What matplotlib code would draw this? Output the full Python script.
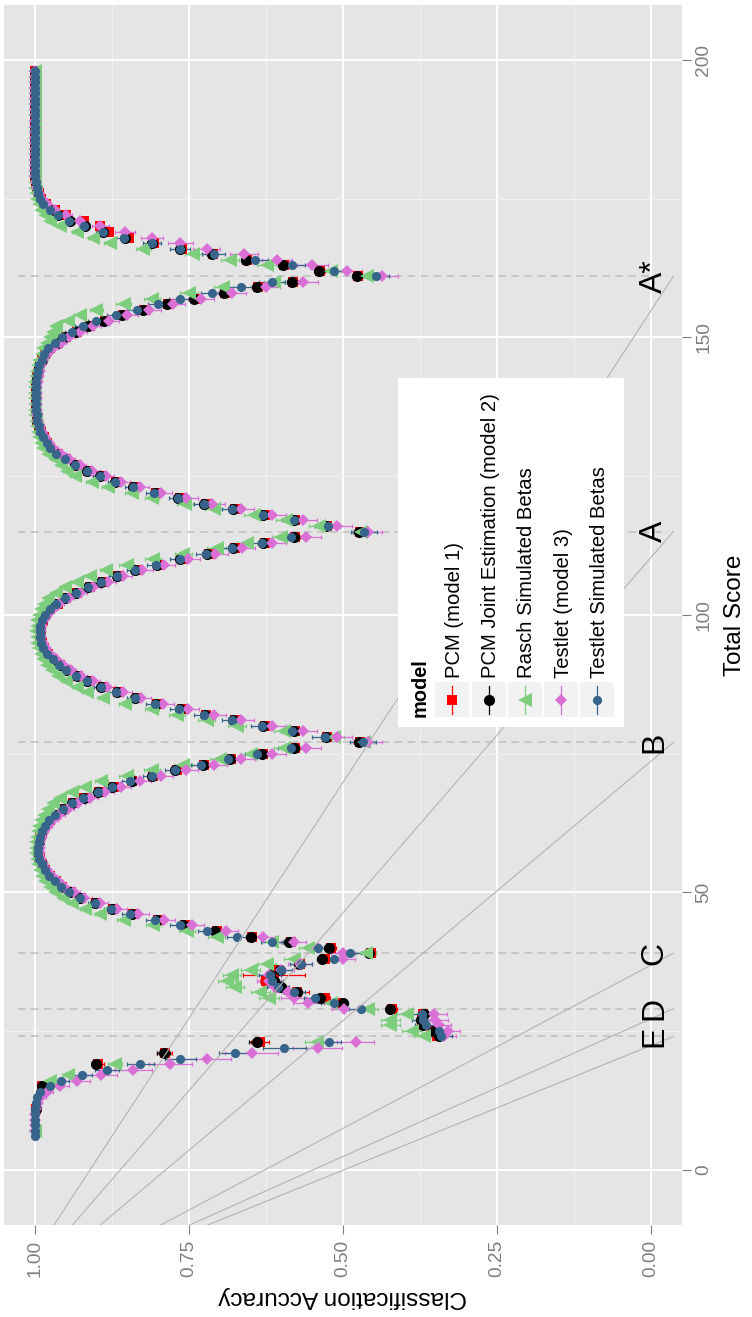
import numpy as np
import matplotlib.pyplot as plt
from matplotlib.patches import Rectangle

plt.rcParams['font.family'] = ['Liberation Sans', 'DejaVu Sans']

nan = np.nan

# total scores 6..198, one value per score (nan = no point at that score)
score = list(range(6, 199))

pcm1 = [nan, nan, nan, nan, nan, 0.998, nan, nan, nan, 0.989,
        nan, nan, nan, 0.897, nan, 0.789, nan, 0.635, 0.348, 0.355,
        0.370, 0.372, 0.370, 0.420, 0.505, 0.530, 0.575, 0.605, 0.625, 0.612,
        0.605, 0.570, 0.530, 0.455, 0.520, 0.585, 0.648, 0.705, 0.757, 0.800,
        0.840, 0.873, 0.900, 0.925, 0.942, 0.956, 0.966, 0.975, 0.983, 0.988,
        0.992, 0.994, 0.994, 0.993, 0.991, 0.988, 0.983, 0.975, 0.966, 0.953,
        0.938, 0.920, 0.896, 0.872, 0.842, 0.808, 0.770, 0.725, 0.682, 0.630,
        0.578, 0.472, 0.526, 0.578, 0.627, 0.676, 0.722, 0.762, 0.801, 0.835,
        0.865, 0.890, 0.913, 0.930, 0.947, 0.959, 0.971, 0.979, 0.985, 0.989,
        0.991, 0.991, 0.990, 0.987, 0.983, 0.975, 0.963, 0.949, 0.931, 0.911,
        0.890, 0.865, 0.835, 0.800, 0.762, 0.718, 0.676, 0.627, 0.578, 0.472,
        0.526, 0.578, 0.627, 0.676, 0.723, 0.765, 0.803, 0.838, 0.868, 0.892,
        0.913, 0.933, 0.949, 0.963, 0.975, 0.980, 0.985, 0.990, 0.993, 0.996,
        0.997, 0.997, 0.998, 0.998, 0.998, 0.998, 0.997, 0.996, 0.994, 0.992,
        0.988, 0.983, 0.975, 0.962, 0.950, 0.931, 0.911, 0.886, 0.857, 0.823,
        0.784, 0.739, 0.691, 0.638, 0.581, 0.475, 0.537, 0.595, 0.655, 0.711,
        0.762, 0.806, 0.848, 0.880, 0.894, 0.920, 0.950, 0.967, 0.982, 0.990,
        0.994, 0.997, 0.998, 1.0, 1.0, 1.0, 1.0, 1.0, 1.0, 1.0,
        1.0, 1.0, 1.0, 1.0, 1.0, 1.0, 1.0, 1.0, 1.0, 1.0,
        1.0, 1.0, 1.0]

pcm2 = [nan, nan, nan, nan, nan, 0.998, nan, nan, nan, 0.989,
        nan, nan, nan, 0.900, nan, 0.791, nan, 0.640, 0.345, 0.352,
        0.371, 0.374, 0.369, 0.423, 0.500, 0.537, 0.575, 0.600, 0.612, 0.618,
        0.602, 0.572, 0.534, 0.458, 0.523, 0.588, 0.650, 0.707, 0.759, 0.802,
        0.843, 0.875, 0.902, 0.927, 0.943, 0.957, 0.967, 0.976, 0.984, 0.989,
        0.993, 0.995, 0.995, 0.993, 0.992, 0.989, 0.984, 0.976, 0.967, 0.954,
        0.940, 0.921, 0.897, 0.874, 0.843, 0.810, 0.772, 0.727, 0.683, 0.631,
        0.580, 0.474, 0.528, 0.580, 0.629, 0.678, 0.724, 0.764, 0.803, 0.837,
        0.867, 0.892, 0.915, 0.932, 0.949, 0.960, 0.972, 0.980, 0.986, 0.990,
        0.992, 0.992, 0.991, 0.988, 0.984, 0.976, 0.965, 0.951, 0.933, 0.913,
        0.892, 0.867, 0.837, 0.802, 0.764, 0.720, 0.678, 0.629, 0.580, 0.474,
        0.528, 0.580, 0.629, 0.678, 0.725, 0.767, 0.805, 0.840, 0.870, 0.894,
        0.915, 0.935, 0.951, 0.965, 0.976, 0.981, 0.986, 0.991, 0.994, 0.997,
        0.997, 0.998, 0.998, 0.998, 0.998, 0.998, 0.998, 0.997, 0.995, 0.993,
        0.989, 0.984, 0.976, 0.963, 0.951, 0.933, 0.913, 0.888, 0.859, 0.825,
        0.786, 0.741, 0.693, 0.640, 0.583, 0.477, 0.539, 0.597, 0.657, 0.713,
        0.764, 0.810, 0.854, 0.889, 0.919, 0.943, 0.962, 0.976, 0.986, 0.992,
        0.995, 0.997, 0.998, 1.0, 1.0, 1.0, 1.0, 1.0, 1.0, 1.0,
        1.0, 1.0, 1.0, 1.0, 1.0, 1.0, 1.0, 1.0, 1.0, 1.0,
        1.0, 1.0, 1.0]

rasch = [nan, 1.0, nan, nan, nan, nan, nan, nan, nan, nan,
         0.976, 0.946, nan, 0.870, nan, nan, nan, 0.542, 0.369, 0.388,
         0.423, 0.423, 0.396, 0.459, 0.520, 0.620, 0.634, 0.675, 0.688, 0.680,
         0.650, 0.623, 0.580, 0.463, 0.556, 0.615, 0.705, 0.753, 0.808, 0.856,
         0.894, 0.919, 0.940, 0.955, 0.967, 0.976, 0.983, 0.988, 0.992, 0.995,
         0.997, 0.998, 0.998, 0.998, 0.997, 0.995, 0.993, 0.990, 0.985, 0.978,
         0.970, 0.959, 0.940, 0.919, 0.892, 0.851, 0.810, 0.759, 0.700, 0.650,
         0.596, 0.466, 0.515, 0.596, 0.672, 0.721, 0.770, 0.810, 0.854, 0.889,
         0.915, 0.932, 0.950, 0.962, 0.972, 0.980, 0.986, 0.990, 0.994, 0.996,
         0.997, 0.998, 0.997, 0.996, 0.994, 0.990, 0.985, 0.978, 0.966, 0.951,
         0.932, 0.911, 0.885, 0.851, 0.808, 0.759, 0.705, 0.656, 0.600, 0.470,
         0.539, 0.593, 0.645, 0.710, 0.756, 0.810, 0.843, 0.881, 0.908, 0.935,
         0.947, 0.958, 0.968, 0.978, 0.986, 0.990, 0.993, 0.995, 0.997, 0.998,
         0.999, 0.999, 0.999, 0.999, 0.999, 0.999, 0.999, 0.998, 0.997, 0.995,
         0.993, 0.989, 0.986, 0.981, 0.976, 0.971, 0.965, 0.946, 0.927, 0.900,
         0.856, 0.810, 0.750, 0.694, 0.612, 0.461, 0.520, 0.623, 0.683, 0.743,
         0.824, 0.878, 0.905, 0.932, 0.959, 0.976, 0.984, 0.990, 0.994, 0.996,
         0.998, 0.999, 1.0, 1.0, 1.0, 1.0, 1.0, 1.0, 1.0, 1.0,
         1.0, 1.0, 1.0, 1.0, 1.0, 1.0, 1.0, 1.0, 1.0, 1.0,
         1.0, 1.0, 1.0]

testlet = [nan, 1.0, 1.0, 1.0, 1.0, 0.998, 0.995, 0.990, 0.981, 0.959,
           0.931, 0.892, 0.840, 0.780, 0.721, 0.648, 0.541, 0.479, 0.336, 0.330,
           0.345, 0.350, 0.352, 0.498, 0.556, 0.580, 0.590, 0.610, 0.620, 0.620,
           0.600, 0.570, 0.500, 0.500, 0.540, 0.580, 0.630, 0.690, 0.745, 0.790,
           0.832, 0.866, 0.895, 0.920, 0.937, 0.952, 0.963, 0.972, 0.980, 0.986,
           0.990, 0.992, 0.992, 0.991, 0.989, 0.985, 0.979, 0.970, 0.960, 0.946,
           0.930, 0.910, 0.886, 0.860, 0.830, 0.795, 0.755, 0.710, 0.665, 0.615,
           0.560, 0.460, 0.510, 0.565, 0.615, 0.665, 0.710, 0.752, 0.792, 0.827,
           0.857, 0.883, 0.906, 0.925, 0.942, 0.955, 0.966, 0.975, 0.982, 0.987,
           0.990, 0.990, 0.989, 0.985, 0.980, 0.971, 0.960, 0.945, 0.926, 0.905,
           0.882, 0.857, 0.826, 0.790, 0.752, 0.708, 0.664, 0.615, 0.560, 0.460,
           0.510, 0.565, 0.615, 0.665, 0.712, 0.755, 0.795, 0.830, 0.860, 0.885,
           0.907, 0.927, 0.944, 0.958, 0.970, 0.977, 0.983, 0.988, 0.992, 0.995,
           0.996, 0.997, 0.997, 0.997, 0.997, 0.996, 0.995, 0.994, 0.992, 0.990,
           0.986, 0.980, 0.971, 0.958, 0.945, 0.927, 0.906, 0.880, 0.850, 0.815,
           0.776, 0.730, 0.680, 0.625, 0.565, 0.436, 0.494, 0.550, 0.607, 0.661,
           0.721, 0.764, 0.810, 0.854, 0.894, 0.927, 0.950, 0.968, 0.980, 0.988,
           0.993, 0.996, 0.998, 1.0, 1.0, 1.0, 1.0, 1.0, 1.0, 1.0,
           1.0, 1.0, 1.0, 1.0, 1.0, 1.0, 1.0, 1.0, 1.0, 1.0,
           1.0, 1.0, 1.0]

testlet_sim = [1.0, 1.0, 1.0, 1.0, 1.0, 1.0, 0.998, 0.997, 0.992, 0.976,
               0.957, 0.924, 0.883, 0.829, 0.764, 0.675, 0.595, 0.523, 0.341, 0.345,
               0.365, 0.370, 0.372, 0.470, 0.515, 0.545, 0.580, 0.605, 0.615, 0.618,
               0.600, 0.568, 0.515, 0.488, 0.540, 0.615, 0.672, 0.720, 0.765, 0.805,
               0.845, 0.876, 0.903, 0.927, 0.944, 0.958, 0.968, 0.977, 0.984, 0.989,
               0.993, 0.995, 0.995, 0.994, 0.992, 0.989, 0.984, 0.977, 0.968, 0.955,
               0.940, 0.922, 0.898, 0.874, 0.845, 0.810, 0.772, 0.730, 0.686, 0.640,
               0.585, 0.468, 0.530, 0.582, 0.632, 0.680, 0.725, 0.766, 0.805, 0.838,
               0.868, 0.893, 0.915, 0.933, 0.949, 0.960, 0.971, 0.980, 0.986, 0.990,
               0.992, 0.992, 0.991, 0.988, 0.984, 0.976, 0.965, 0.951, 0.933, 0.913,
               0.892, 0.867, 0.838, 0.803, 0.765, 0.722, 0.680, 0.632, 0.585, 0.466,
               0.525, 0.580, 0.630, 0.680, 0.726, 0.768, 0.806, 0.840, 0.870, 0.894,
               0.915, 0.935, 0.951, 0.965, 0.976, 0.981, 0.986, 0.991, 0.994, 0.997,
               0.997, 0.998, 0.998, 0.998, 0.998, 0.998, 0.998, 0.997, 0.995, 0.993,
               0.989, 0.985, 0.978, 0.967, 0.956, 0.940, 0.922, 0.900, 0.868, 0.835,
               0.800, 0.765, 0.712, 0.665, 0.615, 0.447, 0.515, 0.583, 0.642, 0.710,
               0.764, 0.810, 0.856, 0.890, 0.920, 0.944, 0.962, 0.976, 0.986, 0.992,
               0.995, 0.997, 0.998, 1.0, 1.0, 1.0, 1.0, 1.0, 1.0, 1.0,
               1.0, 1.0, 1.0, 1.0, 1.0, 1.0, 1.0, 1.0, 1.0, 1.0,
               1.0, 1.0, 1.0]

# error bar half widths
pcm2_se = [0, 0, 0, 0, 0, 0.001, 0, 0, 0, 0.003,
           0, 0, 0, 0.008, 0, 0.010, 0, 0.012, 0.008, 0.008,
           0.008, 0.008, 0.008, 0.008, 0.008, 0.008, 0.008, 0.008, 0.008, 0.008,
           0.008, 0.008, 0.008, 0.008, 0.008, 0.008, 0.007, 0.007, 0.007, 0.006,
           0.006, 0.005, 0.005, 0.004, 0.004, 0.003, 0.003, 0.003, 0.002, 0.002,
           0.001, 0.001, 0.001, 0.001, 0.001, 0.002, 0.002, 0.003, 0.003, 0.003,
           0.004, 0.004, 0.005, 0.005, 0.006, 0.006, 0.007, 0.007, 0.007, 0.008,
           0.008, 0.008, 0.008, 0.008, 0.008, 0.007, 0.007, 0.007, 0.006, 0.006,
           0.005, 0.005, 0.004, 0.004, 0.004, 0.003, 0.003, 0.002, 0.002, 0.001,
           0.001, 0.001, 0.001, 0.002, 0.002, 0.003, 0.003, 0.003, 0.004, 0.004,
           0.005, 0.005, 0.006, 0.006, 0.007, 0.007, 0.007, 0.008, 0.008, 0.008,
           0.008, 0.008, 0.008, 0.007, 0.007, 0.007, 0.006, 0.006, 0.005, 0.005,
           0.004, 0.004, 0.003, 0.003, 0.002, 0.002, 0.002, 0.001, 0.001, 0.001,
           0, 0, 0, 0, 0, 0, 0, 0.001, 0.001, 0.001,
           0.002, 0.002, 0.003, 0.003, 0.004, 0.004, 0.005, 0.005, 0.006, 0.006,
           0.007, 0.007, 0.007, 0.008, 0.008, 0.008, 0.008, 0.008, 0.008, 0.007,
           0.007, 0.006, 0.006, 0.005, 0.004, 0.004, 0.003, 0.003, 0.002, 0.001,
           0.001, 0.001, 0, 0, 0, 0, 0, 0, 0, 0,
           0, 0, 0, 0, 0, 0, 0, 0, 0, 0,
           0, 0, 0]

pcm1_se = [0, 0, 0, 0, 0, 0.001, 0, 0, 0, 0.003,
           0, 0, 0, 0.010, 0, 0.012, 0, 0.015, 0.008, 0.008,
           0.008, 0.008, 0.008, 0.008, 0.008, 0.009, 0.020, 0.010, 0.010, 0.050,
           0.008, 0.008, 0.008, 0.008, 0.008, 0.008, 0.007, 0.007, 0.007, 0.006,
           0.006, 0.005, 0.005, 0.004, 0.004, 0.003, 0.003, 0.003, 0.002, 0.002,
           0.001, 0.001, 0.001, 0.001, 0.001, 0.002, 0.002, 0.003, 0.003, 0.003,
           0.004, 0.004, 0.005, 0.005, 0.006, 0.006, 0.007, 0.007, 0.007, 0.008,
           0.008, 0.008, 0.008, 0.008, 0.008, 0.007, 0.007, 0.007, 0.006, 0.006,
           0.005, 0.005, 0.004, 0.004, 0.004, 0.003, 0.003, 0.002, 0.002, 0.001,
           0.001, 0.001, 0.001, 0.002, 0.002, 0.003, 0.003, 0.003, 0.004, 0.004,
           0.005, 0.005, 0.006, 0.006, 0.007, 0.007, 0.007, 0.008, 0.008, 0.008,
           0.008, 0.008, 0.008, 0.007, 0.007, 0.007, 0.006, 0.006, 0.005, 0.005,
           0.004, 0.004, 0.003, 0.003, 0.002, 0.002, 0.002, 0.001, 0.001, 0.001,
           0, 0, 0, 0, 0, 0, 0, 0.001, 0.001, 0.001,
           0.002, 0.002, 0.003, 0.003, 0.004, 0.004, 0.005, 0.005, 0.006, 0.006,
           0.007, 0.007, 0.007, 0.008, 0.008, 0.008, 0.008, 0.008, 0.008, 0.007,
           0.007, 0.006, 0.006, 0.005, 0.004, 0.004, 0.003, 0.003, 0.002, 0.001,
           0.001, 0.001, 0, 0, 0, 0, 0, 0, 0, 0,
           0, 0, 0, 0, 0, 0, 0, 0, 0, 0,
           0, 0, 0]

rasch_se = [0, 0, 0, 0, 0, 0, 0, 0, 0, 0,
            0.005, 0.008, 0, 0.012, 0, 0, 0, 0.020, 0.016, 0.016,
            0.016, 0.016, 0.016, 0.016, 0.016, 0.016, 0.016, 0.015, 0.015, 0.015,
            0.015, 0.015, 0.016, 0.016, 0.016, 0.016, 0.014, 0.013, 0.012, 0.010,
            0.009, 0.008, 0.007, 0.006, 0.005, 0.004, 0.004, 0.003, 0.002, 0.002,
            0.001, 0.001, 0.001, 0.001, 0.001, 0.002, 0.002, 0.003, 0.004, 0.005,
            0.006, 0.007, 0.008, 0.009, 0.010, 0.012, 0.013, 0.014, 0.015, 0.016,
            0.016, 0.016, 0.016, 0.016, 0.015, 0.014, 0.013, 0.012, 0.010, 0.009,
            0.008, 0.007, 0.006, 0.005, 0.004, 0.003, 0.003, 0.002, 0.002, 0.001,
            0.001, 0.001, 0.001, 0.002, 0.002, 0.003, 0.004, 0.005, 0.006, 0.007,
            0.008, 0.009, 0.010, 0.012, 0.013, 0.014, 0.015, 0.016, 0.016, 0.016,
            0.016, 0.016, 0.015, 0.014, 0.013, 0.012, 0.011, 0.010, 0.009, 0.008,
            0.007, 0.006, 0.005, 0.004, 0.003, 0.002, 0.002, 0.001, 0.001, 0.001,
            0, 0, 0, 0, 0, 0, 0, 0.001, 0.001, 0.002,
            0.002, 0.003, 0.003, 0.004, 0.005, 0.006, 0.007, 0.008, 0.009, 0.010,
            0.012, 0.013, 0.014, 0.015, 0.016, 0.016, 0.016, 0.016, 0.015, 0.014,
            0.012, 0.010, 0.009, 0.007, 0.005, 0.004, 0.003, 0.002, 0.001, 0.001,
            0, 0, 0, 0, 0, 0, 0, 0, 0, 0,
            0, 0, 0, 0, 0, 0, 0, 0, 0, 0,
            0, 0, 0]

testlet_se = [0, 0, 0, 0, 0, 0.003, 0.005, 0.008, 0.010, 0.015,
              0.020, 0.025, 0.030, 0.035, 0.040, 0.043, 0.040, 0.030, 0.020, 0.020,
              0.020, 0.020, 0.020, 0.020, 0.025, 0.020, 0.020, 0.020, 0.020, 0.020,
              0.020, 0.020, 0.020, 0.020, 0.020, 0.020, 0.020, 0.020, 0.020, 0.018,
              0.017, 0.015, 0.013, 0.012, 0.010, 0.009, 0.008, 0.007, 0.006, 0.005,
              0.004, 0.004, 0.004, 0.004, 0.005, 0.006, 0.007, 0.008, 0.009, 0.010,
              0.012, 0.013, 0.015, 0.016, 0.018, 0.019, 0.020, 0.021, 0.022, 0.023,
              0.024, 0.024, 0.024, 0.023, 0.022, 0.021, 0.020, 0.019, 0.018, 0.016,
              0.015, 0.013, 0.012, 0.010, 0.009, 0.008, 0.007, 0.006, 0.005, 0.004,
              0.004, 0.004, 0.004, 0.005, 0.006, 0.007, 0.008, 0.009, 0.011, 0.012,
              0.014, 0.015, 0.017, 0.018, 0.020, 0.021, 0.022, 0.023, 0.024, 0.024,
              0.024, 0.023, 0.022, 0.021, 0.020, 0.019, 0.018, 0.016, 0.015, 0.013,
              0.012, 0.010, 0.009, 0.008, 0.007, 0.006, 0.005, 0.004, 0.003, 0.003,
              0.002, 0.002, 0.002, 0.002, 0.002, 0.002, 0.002, 0.003, 0.003, 0.004,
              0.005, 0.006, 0.008, 0.009, 0.011, 0.012, 0.014, 0.016, 0.017, 0.019,
              0.020, 0.021, 0.022, 0.023, 0.024, 0.025, 0.025, 0.025, 0.024, 0.023,
              0.022, 0.020, 0.018, 0.016, 0.014, 0.012, 0.010, 0.008, 0.006, 0.004,
              0.003, 0.002, 0.001, 0, 0, 0, 0, 0, 0, 0,
              0, 0, 0, 0, 0, 0, 0, 0, 0, 0,
              0, 0, 0]

testlet_sim_se = [0, 0, 0, 0, 0, 0, 0.002, 0.003, 0.006, 0.010,
                  0.013, 0.017, 0.020, 0.022, 0.025, 0.026, 0.035, 0.020, 0.018, 0.018,
                  0.018, 0.018, 0.018, 0.020, 0.020, 0.018, 0.018, 0.018, 0.018, 0.018,
                  0.018, 0.018, 0.018, 0.018, 0.018, 0.018, 0.017, 0.016, 0.015, 0.014,
                  0.013, 0.012, 0.011, 0.010, 0.008, 0.007, 0.006, 0.005, 0.004, 0.003,
                  0.003, 0.002, 0.002, 0.002, 0.003, 0.004, 0.005, 0.006, 0.007, 0.008,
                  0.010, 0.011, 0.012, 0.013, 0.014, 0.015, 0.016, 0.017, 0.018, 0.019,
                  0.020, 0.021, 0.020, 0.019, 0.018, 0.017, 0.016, 0.015, 0.014, 0.013,
                  0.012, 0.011, 0.010, 0.008, 0.007, 0.006, 0.005, 0.004, 0.003, 0.003,
                  0.002, 0.002, 0.003, 0.004, 0.005, 0.006, 0.007, 0.008, 0.009, 0.010,
                  0.011, 0.012, 0.013, 0.015, 0.016, 0.017, 0.018, 0.019, 0.020, 0.021,
                  0.020, 0.019, 0.018, 0.017, 0.016, 0.015, 0.014, 0.013, 0.012, 0.011,
                  0.010, 0.008, 0.007, 0.006, 0.005, 0.004, 0.003, 0.003, 0.002, 0.002,
                  0.001, 0.001, 0.001, 0.001, 0.001, 0.001, 0.001, 0.002, 0.003, 0.004,
                  0.005, 0.006, 0.007, 0.008, 0.010, 0.011, 0.012, 0.014, 0.015, 0.016,
                  0.017, 0.018, 0.019, 0.020, 0.021, 0.022, 0.022, 0.021, 0.020, 0.018,
                  0.016, 0.014, 0.012, 0.010, 0.008, 0.006, 0.005, 0.004, 0.003, 0.002,
                  0.001, 0.001, 0, 0, 0, 0, 0, 0, 0, 0,
                  0, 0, 0, 0, 0, 0, 0, 0, 0, 0,
                  0, 0, 0]

# grade boundaries
cut_score = [161, 115, 77, 39, 29, 24]
cut_label = ['A*', 'A', 'B', 'C', 'D', 'E']
line_acc = [0.969, 0.939, 0.894, 0.796, 0.749, 0.720]  # accuracy where each grey line leaves the bottom

models = ['PCM (model 1)', 'PCM Joint Estimation (model 2)', 'Rasch Simulated Betas',
          'Testlet (model 3)', 'Testlet Simulated Betas']
values = [pcm1, pcm2, rasch, testlet, testlet_sim]
errors = [pcm1_se, pcm2_se, rasch_se, testlet_se, testlet_sim_se]
colors = ['#FF0000', '#000000', '#7CCD7C', '#DA70D6', '#36648B']
markers = ['s', 'o', '<', 'D', 'o']
msizes = [7.5, 8, 9.5, 6, 6.6]

for v in values + errors:
    assert len(v) == len(score), len(v)

W, H = 752, 1317
fig = plt.figure(figsize=(W / 100, H / 100), dpi=100)
# panel in pixels: x 4..682, y 4.5..1225
ax = fig.add_axes([4 / W, (H - 1225.1) / H, 678 / W, 1220.6 / H])
ax.set_facecolor('#E5E5E5')
for s in ax.spines.values():
    s.set_visible(False)

ax.set_xlim(1.05, -0.05)
ax.set_ylim(-10, 210)
ax.set_xticks([0, 0.25, 0.5, 0.75, 1.0])
ax.set_xticklabels(['0.00', '0.25', '0.50', '0.75', '1.00'])
ax.set_xticks([0.125, 0.375, 0.625, 0.875], minor=True)
ax.set_yticks([0, 50, 100, 150, 200])
ax.set_yticks([25, 75, 125, 175], minor=True)
ax.yaxis.tick_right()
ax.tick_params(which='major', length=6.2, width=0.8, color='#7F7F7F',
               labelcolor='#7F7F7F', labelsize=13.8)
ax.tick_params(which='minor', length=0)
ax.tick_params(axis='x', pad=4.5, labelrotation=90)
ax.tick_params(axis='y', pad=3.5, labelrotation=90)
for lbl in ax.get_yticklabels():
    lbl.set_va('center')
ax.grid(True, which='major', color='white', lw=1.4)
ax.grid(True, which='minor', color='#F2F2F2', lw=0.7)
ax.set_axisbelow(True)

# dashed boundary lines
for c in cut_score:
    ax.plot([1.027, -0.027], [c, c], color='#BEBEBE', lw=1.1, ls=(0, (5, 3.5)), zorder=1.5)

for v, e, col in zip(values, errors, colors):
    ax.errorbar(v, score, xerr=e, fmt='none', ecolor=col, elinewidth=0.9,
                capsize=1.7, capthick=0.9, zorder=2)
for v, col, m, ms in zip(values, colors, markers, msizes):
    ax.plot(v, score, ls='none', marker=m, ms=ms, color=col, mew=0, zorder=3)

# grey guide lines and grade letters
for c, a0 in zip(cut_score, line_acc):
    ax.plot([a0, -0.036], [-10, c], color='#B3B3B3', lw=0.8, zorder=4)
for c, lab in zip(cut_score, cut_label):
    ax.text(-0.005, c, lab, rotation=90, ha='center', va='center', fontsize=23, zorder=5)


# legend drawn by hand (rotated layout)
def pos(px, py):
    return (px - 4) / 678, (1225.1 - py) / 1220.6


x0, y0 = pos(398, 727)
x1, y1 = pos(624, 378)
ax.add_patch(Rectangle((x0, y0), x1 - x0, y1 - y0, transform=ax.transAxes,
                       facecolor='white', edgecolor='none', zorder=10))
tx, ty = pos(420, 717)
ax.text(tx, ty, 'model', rotation=90, ha='center', va='bottom', fontsize=14.4,
        fontweight='bold', transform=ax.transAxes, zorder=11)
key_left = [435, 471.7, 507.7, 544, 580]
for i, kl in enumerate(key_left):
    kx0, ky0 = pos(kl, 717)
    kx1, ky1 = pos(kl + 34.3, 682)
    ax.add_patch(Rectangle((kx0, ky0), kx1 - kx0, ky1 - ky0, transform=ax.transAxes,
                           facecolor='#F2F2F2', edgecolor='none', zorder=11))
    cx = kl + 17.15
    lx, la = pos(cx, 714)
    _, lb = pos(cx, 686)
    ax.plot([lx, lx], [la, lb], color=colors[i], lw=0.9, transform=ax.transAxes, zorder=12)
    mx, my = pos(cx, 700)
    ax.plot([mx], [my], ls='none', marker=markers[i], ms=msizes[i], color=colors[i],
            mew=0, transform=ax.transAxes, zorder=13)
    tx, ty = pos(cx + 2, 678)
    ax.text(tx, ty, models[i], rotation=90, ha='center', va='bottom', fontsize=14.6,
            transform=ax.transAxes, zorder=12)

fig.text(343 / W, 1 - 1297 / H, 'Classification Accuracy', rotation=180,
         ha='center', va='center', fontsize=17.6)
fig.text(735 / W, 1 - 615 / H, 'Total Score', rotation=90,
         ha='center', va='center', fontsize=17.6)

fig.savefig('out.png', dpi=100)
